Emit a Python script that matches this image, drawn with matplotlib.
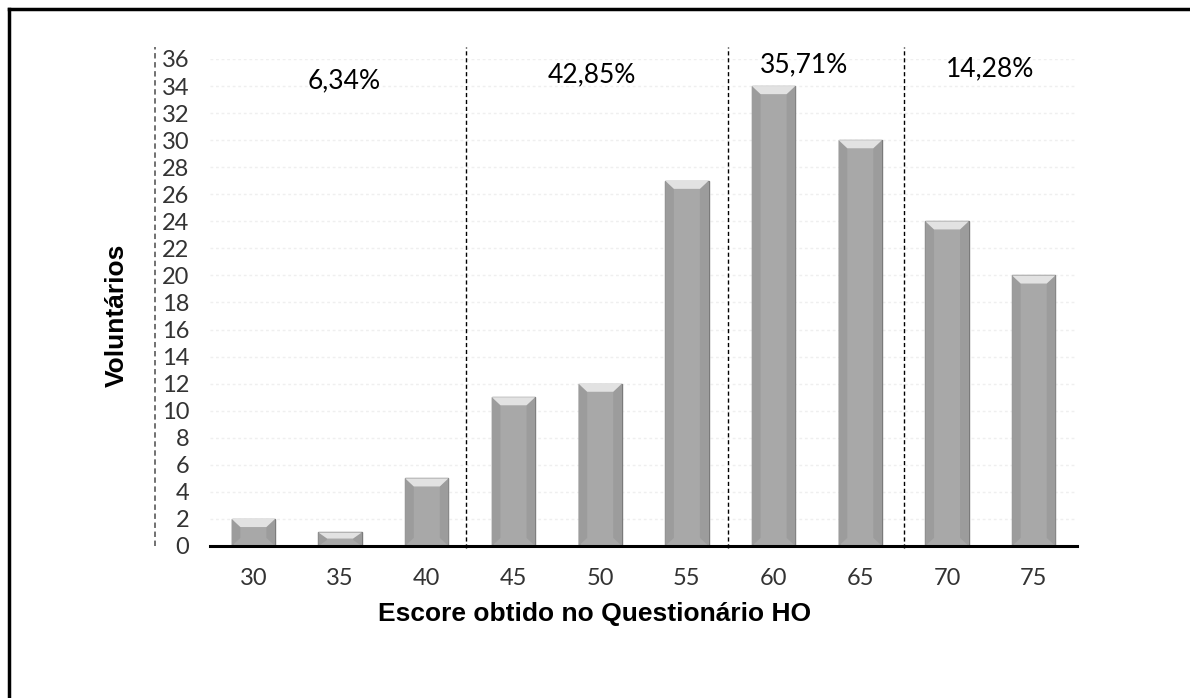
import matplotlib.pyplot as plt
from matplotlib.patches import Polygon
from matplotlib.lines import Line2D

# distribution of HO questionnaire scores
scores = ['30', '35', '40', '45', '50', '55', '60', '65', '70', '75']
volunteers = [2, 1, 5, 11, 12, 27, 34, 30, 24, 20]

# group boundaries (between categories) and the share of each group
group_edges = [2.45, 5.47, 7.5]
group_pcts = ['6,34%', '42,85%', '35,71%', '14,28%']
pct_pos = [(1.05, 34.4), (3.9, 34.8), (6.35, 35.6), (8.5, 35.3)]

fig = plt.figure(figsize=(11.9, 6.98), dpi=100)
ax = fig.add_axes([0.1765, 0.2178, 0.7286, 0.6977])

x = range(len(scores))
w = 0.5
bars = ax.bar(x, volunteers, width=w, color='#a8a8a8', edgecolor='#7a7a7a',
              linewidth=1.0, zorder=3)

# bevel on top of each bar
bev_h = 0.6
inset = 0.1
for xi, v in zip(x, volunteers):
    h = min(bev_h, v * 0.45)
    top = Polygon([(xi - w/2, v), (xi + w/2, v), (xi + w/2 - inset, v - h),
                   (xi - w/2 + inset, v - h)], closed=True,
                  facecolor='#e2e2e2', edgecolor='none', zorder=4)
    ax.add_patch(top)
    for s in (-1, 1):
        side = Polygon([(xi + s*w/2, v), (xi + s*(w/2 - inset), v - h),
                        (xi + s*(w/2 - inset), min(h, v - h)),
                        (xi + s*w/2, 0)], closed=True,
                       facecolor='#9c9c9c', edgecolor='none', zorder=3.5)
        ax.add_patch(side)

ax.set_xlim(-0.5, len(scores) - 0.5)
ax.set_ylim(0, 36)
ax.set_yticks(range(0, 37, 2))
ax.set_xticks(list(x))
ax.set_xticklabels(scores)

ax.yaxis.grid(True, color='#efefef', linestyle=(0, (2, 2)), linewidth=1, zorder=0)
ax.set_axisbelow(True)

for s in ['top', 'right', 'left']:
    ax.spines[s].set_visible(False)
ax.spines['bottom'].set_linewidth(2.2)
ax.spines['bottom'].set_color('black')
ax.spines['bottom'].set_zorder(5)

ax.tick_params(axis='both', length=0, labelsize=17, colors='#333333')
ax.tick_params(axis='x', pad=16)
ax.tick_params(axis='y', pad=15)
for lbl in ax.get_xticklabels() + ax.get_yticklabels():
    lbl.set_family('Lato')

# dashed separators between groups
ax.plot([-1.13, -1.13], [0, 36.9], color='#666666', linestyle=(0, (3, 2)),
        linewidth=1.3, clip_on=False, zorder=6)
for e in group_edges:
    ax.plot([e, e], [-0.15, 36.9], color='black', linestyle=(0, (3, 2)),
            linewidth=1.0, clip_on=False, zorder=6)

for txt, (px, py) in zip(group_pcts, pct_pos):
    ax.text(px, py, txt, ha='center', va='center', fontsize=19,
            family='Lato', color='black')

ax.set_ylabel('Voluntários', fontsize=19, fontweight='bold',
              family='Liberation Sans')
ax.yaxis.set_label_coords(-0.094, 0.474)
ax.set_xlabel('Escore obtido no Questionário HO', fontsize=19,
              fontweight='bold', family='Liberation Sans')
ax.xaxis.set_label_coords(0.444, -0.115)

# outer frame (top and left edges)
fig.add_artist(Line2D([0.0076, 1.0], [0.9866, 0.9866], color='black',
                      linewidth=2.5, transform=fig.transFigure))
fig.add_artist(Line2D([0.0076, 0.0076], [0.0, 0.9866], color='black',
                      linewidth=2.5, transform=fig.transFigure))

fig.savefig('out.png', dpi=100)
